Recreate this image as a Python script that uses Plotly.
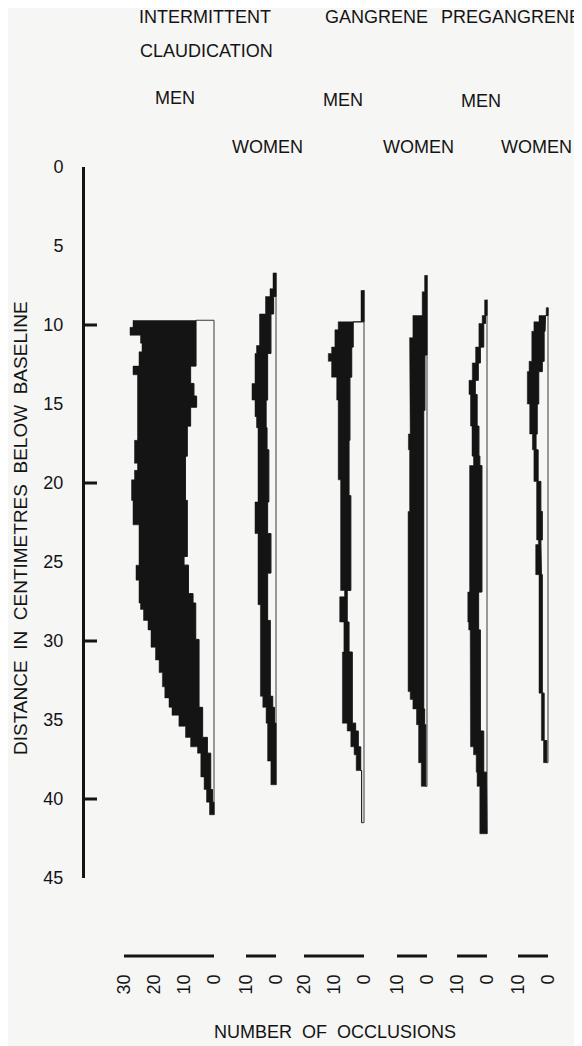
import plotly.graph_objects as go

# the page adds an 8 px body margin, so the figure is drawn 8 px smaller and
# every reference pixel position is shifted by OFF
OFF = 8
W, H = 582 - OFF, 1046 - OFF
FONT = "Liberation Sans, Arial, sans-serif"
INK = "#141414"
PAPER = "#f6f6f4"


def fx(px):
    return (px - OFF) / W


def fy(py):
    return 1 - (py - OFF) / H


# ---- occlusion profiles: depth steps (cm below baseline), total count and inner (white) count ----
ic_men_depth = [9.7, 10.15, 10.65, 11.15, 11.7, 12.6, 13.15, 13.7, 14.5, 15.2, 16.4, 17.3, 18.3, 18.75,
                19.2, 19.8, 21.1, 22.65, 24.65, 25.2, 26.15, 27.0, 27.6, 28.0, 28.7, 29.3, 29.9, 30.4,
                31.2, 32.0, 32.9, 33.6, 34.2, 34.7, 35.4, 36.1, 36.7, 37.1, 38.6, 39.4, 40.2, 41.0]
ic_men_total = [27, 28, 24.5, 24, 25, 27, 25.5, 25.5, 25.5, 25.5, 25.5, 26.5, 26.5, 25.5, 26.5, 27.5,
                27, 25, 25, 26, 25, 25, 24.5, 23.5, 22, 21, 21, 19.5, 18.3, 17.2, 16.4, 15, 14, 11.7,
                9.5, 7.8, 5.5, 4.4, 3.3, 2.5, 1.5]
ic_men_inner = [6, 6, 6, 6, 6, 7.8, 7.8, 6.7, 5.8, 7.8, 8.9, 8.9, 9.5, 9.5, 9.5, 9.5, 8.9, 8.9, 10,
                8.5, 8.5, 7, 6.1, 6.1, 6.1, 6.1, 5, 5, 5, 5, 5, 5, 3.8, 3.8, 3.8, 2.2, 2.2, 1.1, 1.1,
                0.5, 0]

ic_women_depth = [6.7, 7.7, 8.2, 9.3, 11.3, 11.8, 13.7, 14.75, 15.8, 16.5, 17.9, 21.2, 23.2, 25.7,
                  27.7, 28.7, 33.5, 34.2, 35.2, 37.6, 39.1]
ic_women_total = [1, 2, 3.5, 5.5, 6.5, 7, 8, 7, 6.5, 6, 6, 7, 6, 6, 5.2, 5.2, 4.4, 3.3, 2.8, 1.7]
ic_women_inner = [0, 0, 0.8, 1.7, 1.7, 2.8, 2.8, 3.3, 3.3, 3, 2.4, 2.8, 1.7, 2.8, 2.8, 1.9, 1.1, 0.5, 0, 0]

gang_men_depth = [7.8, 9.8, 10.3, 11.4, 11.8, 12.3, 13.3, 14.75, 17.3, 19.8, 20.8, 26.8, 27.2, 28.8,
                  30.7, 35.2, 35.7, 36.7, 37.2, 38.2, 41.5]
gang_men_total = [1, 8.6, 9.7, 10.8, 11.9, 10.8, 9.1, 8.6, 8.6, 7.8, 7.8, 6.5, 8.1, 6.7, 7.2, 5.6,
                  4.4, 3.3, 2.6, 0.8]
gang_men_inner = [0, 3.6, 3.6, 4.1, 4.1, 4.1, 4.7, 4.7, 5, 5, 4.4, 5.6, 5.6, 5, 3.9, 2.8, 1.9, 1.1,
                  1.1, 0.8]

gang_women_depth = [6.85, 7.9, 9.4, 10.8, 11.9, 15.4, 16.9, 17.9, 21.8, 33.2, 33.7, 34.3, 35.3, 37.7, 39.2]
gang_women_total = [0.8, 1.6, 4.7, 5.8, 5.8, 5.6, 6.2, 5.8, 6.3, 5.6, 4.7, 3.5, 2.8, 1.9]
gang_women_inner = [0, 0, 0, 0, 0.7, 1.1, 1.1, 1.1, 1.3, 1.3, 1.1, 0.8, 0.4, 0.4]

preg_men_depth = [8.4, 9.4, 9.9, 11.4, 12.4, 13.5, 14.4, 16.4, 18.3, 18.9, 26.9, 28.8, 29.3, 35.7,
                  36.7, 37.2, 38.3, 39.2, 42.2]
preg_men_total = [0.8, 1.6, 2.7, 3.8, 4.9, 6, 5.5, 5, 4.5, 5.8, 6.4, 6.1, 5.6, 5.5, 4.5, 3.6, 3.3, 2.4]
preg_men_inner = [0, 0.5, 1.1, 2.2, 2.9, 3.9, 3.3, 2.7, 2.4, 1.7, 2.8, 2.8, 2.2, 1.1, 1.1, 1.1, 0.2, 0]

preg_women_depth = [8.9, 9.4, 9.8, 10.4, 12.3, 12.95, 15.0, 16.9, 17.9, 19.9, 21.8, 23.6, 23.9, 25.8,
                    33.3, 36.3, 37.7]
preg_women_total = [0.6, 3, 4.7, 5.4, 6.3, 6.9, 6.1, 5.2, 4.7, 3.8, 3.8, 3.2, 4.1, 3, 2.2, 1.5]
preg_women_inner = [0, 0.8, 1, 1.3, 1.9, 3.1, 3.6, 4, 3.3, 2.4, 1.9, 2.4, 2.2, 1.9, 1.3, 0.4]

# count scale under each panel
ic_men_ticks = [30, 20, 10, 0]
ic_women_ticks = [10, 0]
gang_men_ticks = [20, 10, 0]
gang_women_ticks = [10, 0]
preg_men_ticks = [10, 0]
preg_women_ticks = [10, 0]

depth_ticks = [0, 5, 10, 15, 20, 25, 30, 35, 40, 45]
depth_marks = [10, 20, 30, 40]

# panel layout: reference pixel x of the zero line, 3 px per occlusion
panels = [
    (ic_men_depth, ic_men_total, ic_men_inner, ic_men_ticks, 214),
    (ic_women_depth, ic_women_total, ic_women_inner, ic_women_ticks, 276),
    (gang_men_depth, gang_men_total, gang_men_inner, gang_men_ticks, 364),
    (gang_women_depth, gang_women_total, gang_women_inner, gang_women_ticks, 427),
    (preg_men_depth, preg_men_total, preg_men_inner, preg_men_ticks, 487),
    (preg_women_depth, preg_women_total, preg_women_inner, preg_women_ticks, 548),
]
PX = 3.0
PAD = 3
SCALE_Y = 956
AXIS_X = 83
MARK_LEN = 14

fig = go.Figure()
layout_axes = {}

for k, (depth, total, inner, ticks, base_px) in enumerate(panels, start=1):
    xa = "x" if k == 1 else f"x{k}"
    n = len(total)

    # thin outline of the white band: inner edge and zero line
    ox, oy = [0], [depth[0]]
    for i in range(n):
        ox += [inner[i], inner[i]]
        oy += [depth[i], depth[i + 1]]
    ox += [0, 0]
    oy += [depth[-1], depth[0]]
    fig.add_trace(go.Scatter(x=ox, y=oy, mode="lines", xaxis=xa, yaxis="y",
                             line=dict(color="#3a3a3a", width=1), hoverinfo="skip", showlegend=False))

    # black band: stepped outer edge down, stepped inner edge back up
    px, py = [], []
    for i in range(n):
        px += [total[i], total[i]]
        py += [depth[i], depth[i + 1]]
    for i in reversed(range(n)):
        px += [inner[i], inner[i]]
        py += [depth[i + 1], depth[i]]
    fig.add_trace(go.Scatter(x=px, y=py, mode="lines", fill="toself", fillcolor=INK, xaxis=xa,
                             yaxis="y", line=dict(color=INK, width=0.5), hoverinfo="skip",
                             showlegend=False))

    # scale bar from the largest tick to zero
    fig.add_trace(go.Scatter(x=[max(ticks), 0], y=[0, 0], mode="lines", xaxis=xa, yaxis="y3",
                             line=dict(color=INK, width=3), hoverinfo="skip", showlegend=False))

    # first panel's area reaches back to the depth axis so the axis tick marks can live in it
    left_px = AXIS_X if k == 1 else base_px - PX * (max(ticks) + PAD)
    layout_axes["xaxis" if k == 1 else f"xaxis{k}"] = dict(
        domain=[fx(left_px), fx(base_px + PX * PAD)],
        range=[(base_px - left_px) / PX, -PAD], anchor="free", position=fy(SCALE_Y),
        automargin=False, showline=False, showgrid=False, zeroline=False,
        tickmode="array", tickvals=ticks, ticktext=[str(t) for t in ticks],
        tickangle=-90, ticks="", ticklabelstandoff=14,
        tickfont=dict(family=FONT, size=18, color=INK),
    )

# short tick marks on the right side of the depth axis (10, 20, 30, 40 only),
# drawn in the first panel's subplot starting at its left edge
axis_count = (panels[0][4] - AXIS_X) / PX
mx, my = [], []
for v in depth_marks:
    mx += [axis_count, axis_count - MARK_LEN / PX, None]
    my += [v, v, None]
fig.add_trace(go.Scatter(x=mx, y=my, mode="lines", xaxis="x", yaxis="y",
                         line=dict(color=INK, width=3), hoverinfo="skip", showlegend=False))

fig.update_layout(**layout_axes)

fig.update_layout(
    width=W, height=H,
    margin=dict(l=0, r=0, t=0, b=0, autoexpand=False),
    paper_bgcolor=PAPER, plot_bgcolor="rgba(0,0,0,0)",
    yaxis=dict(domain=[fy(878), fy(167)], range=[45, 0], anchor="free", position=fx(AXIS_X),
               automargin=False, showline=True, linewidth=3, linecolor=INK, showgrid=False,
               zeroline=False, tickmode="array", tickvals=depth_ticks, ticks="",
               ticklabelstandoff=15, tickfont=dict(family=FONT, size=18, color=INK)),
    yaxis3=dict(domain=[fy(SCALE_Y + 10), fy(SCALE_Y - 10)], range=[-1, 1],
                visible=False, automargin=False),
)

# headings
labels = [
    ("INTERMITTENT", 205, 17), ("CLAUDICATION", 206, 51),
    ("GANGRENE", 376, 17), ("PREGANGRENE", 511, 17),
    ("MEN", 175, 98), ("MEN", 343, 100), ("MEN", 481, 101),
    ("WOMEN", 267, 147), ("WOMEN", 418, 147), ("WOMEN", 536, 147),
    ("NUMBER\u00a0 OF\u00a0 OCCLUSIONS", 335, 1032),
]
for text, x, y in labels:
    fig.add_annotation(text=text, x=fx(x), y=fy(y), xref="paper", yref="paper",
                       xanchor="center", yanchor="middle", showarrow=False,
                       font=dict(family=FONT, size=18, color=INK))

fig.add_annotation(text="DISTANCE\u00a0 IN\u00a0 CENTIMETRES\u00a0 BELOW\u00a0 BASELINE",
                   x=fx(20), y=fy(528), xref="paper", yref="paper", textangle=-90,
                   xanchor="center", yanchor="middle", showarrow=False,
                   font=dict(family=FONT, size=19, color=INK))

fig.write_html("out.html")
